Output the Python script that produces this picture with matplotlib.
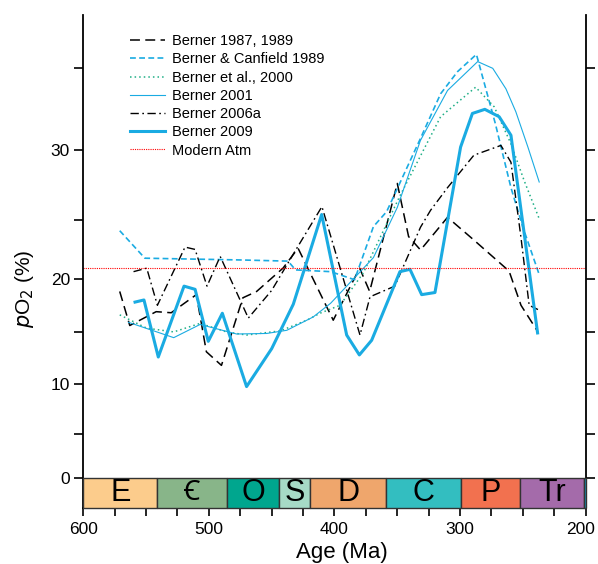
import numpy as np
import matplotlib
matplotlib.use("Agg")
import matplotlib.pyplot as plt
from matplotlib.transforms import ScaledTranslation

plt.rcParams['font.family'] = ['Liberation Sans', 'DejaVu Sans']

# --- data (age in Ma, pO2 in %) ---
b87_age = [571, 563, 542, 530, 510, 502, 490, 473, 462, 441, 429, 401, 380, 372,
           350, 341, 331.5, 310, 289, 261, 251.5, 238]
b87_o2 = [18.8, 15.6, 16.9, 16.8, 18.5, 13.1, 11.8, 18.2, 18.8, 20.9, 22.6, 16.1, 20.9, 18.8,
          27.6, 23.6, 22.45, 25.2, 23.3, 20.65, 17.5, 15.0]

bc89_age = [571, 551, 475, 437, 431, 403, 384, 369, 358.5, 332, 315.5, 302, 287, 272,
            259.5, 250, 237]
bc89_o2 = [24.1, 21.75, 21.6, 21.5, 20.75, 20.6, 19.9, 24.45, 25.6, 30.6, 33.4, 34.75, 35.8, 31.6,
           27.3, 24.4, 20.35]

b00_age = [571, 549.5, 528, 507, 486, 470, 443, 422, 411.6, 395.6, 377, 348, 315.5, 287.6,
           272.8, 259.5, 249, 237]
b00_o2 = [16.6, 15.35, 15.0, 15.8, 15.0, 14.7, 15.1, 16.1, 16.75, 17.5, 20.5, 26.7, 32.0, 33.8,
          32.6, 30.35, 27.8, 25.1]

b01_age = [564, 528, 507, 478, 454, 438, 417, 403, 369, 350, 331.6, 310, 286, 274,
           263.5, 255.6, 246, 237]
b01_o2 = [15.9, 14.45, 15.7, 14.8, 14.85, 15.15, 16.4, 17.7, 21.8, 25.9, 30.55, 33.6, 35.36, 34.95,
          33.7, 32.3, 30.15, 27.7]

b06_age = [560, 549.5, 541, 519, 511, 501.5, 491, 468.6, 450, 430, 410, 379.7, 371.7, 352,
           331.5, 323.5, 310, 289, 267.5, 259.5, 251.5, 245, 238]
b06_o2 = [20.6, 20.9, 17.5, 22.7, 22.5, 19.3, 21.9, 16.3, 18.9, 22.6, 25.96, 14.7, 18.3, 19.3,
          24.4, 25.7, 27.3, 29.6, 30.25, 29.1, 23.5, 17.5, 17.1]

b09_age = [558.8, 551.7, 540.3, 519.8, 511, 500.5, 489.3, 470, 450, 432.8, 410.2, 390.3, 380.2,
           370.4, 347.9, 339.9, 330.6, 320, 299.6, 290.2, 280.3, 268.9, 259.5, 238.3]
b09_o2 = [17.8, 18.0, 12.6, 19.3, 19.0, 14.1, 16.75, 9.76, 13.4, 17.6, 25.4, 14.7, 12.8,
          14.2, 20.6, 20.8, 18.5, 18.7, 30.15, 32.2, 32.45, 32.0, 30.87, 14.9]

modern_atm = 20.95

periods = ['E', 'Ꞓ', 'O', 'S', 'D', 'C', 'P', 'Tr', '']
period_start = [600, 541, 485.4, 443.8, 419.2, 358.9, 298.9, 252.2, 201.3]
period_end = [541, 485.4, 443.8, 419.2, 358.9, 298.9, 252.2, 201.3, 200]
period_colors = ['#FCCC8C', '#88B589', '#00A68E', '#A6DAC6', '#EFA66C',
                 '#33BEC0', '#F2714F', '#A46BAA', '#1296C0']

# the y axis of the original is not linear: tick values and their spacing
yticks = [0, 5, 10, 15, 20, 25, 30, 35]
ytick_pos = [0, 43.7, 93.4, 145.7, 198.9, 257.4, 328.0, 410.0]
s_lo = ytick_pos[1] / 5.0
s_hi = (ytick_pos[-1] - ytick_pos[-2]) / 5.0


def fwd(v):
    v = np.asarray(v, dtype=float)
    out = np.interp(v, yticks, ytick_pos)
    out = np.where(v < 0, v * s_lo, out)
    out = np.where(v > 35, ytick_pos[-1] + (v - 35) * s_hi, out)
    return out


def inv(d):
    d = np.asarray(d, dtype=float)
    out = np.interp(d, ytick_pos, yticks)
    out = np.where(d < 0, d / s_lo, out)
    out = np.where(d > ytick_pos[-1], 35 + (d - ytick_pos[-1]) / s_hi, out)
    return out


fig = plt.figure(figsize=(5.98, 5.64), dpi=100)
ax = fig.add_axes([0.1393, 0.0993, 0.8401, 0.8741])
ax.set_yscale('function', functions=(fwd, inv))
ybot, ytop = -3.47, 38.2
ax.set_ylim(ybot, ytop)
ax.set_xlim(600, 200)

cyan = '#1AABE2'
ax.plot(b87_age, b87_o2, color='black', lw=1.1, dashes=(6.5, 3.5), label='Berner 1987, 1989')
ax.plot(bc89_age, bc89_o2, color=cyan, lw=1.2, dashes=(3.5, 2.0), label='Berner & Canfield 1989')
ax.plot(b00_age, b00_o2, color='#1FAF86', lw=1.1, dashes=(1.0, 2.0), label='Berner et al., 2000')
ax.plot(b01_age, b01_o2, color=cyan, lw=0.8, label='Berner 2001')
ax.plot(b06_age, b06_o2, color='black', lw=1.0, dashes=(6, 2.5, 1.2, 2.5), label='Berner 2006a')
ax.plot(b09_age, b09_o2, color=cyan, lw=2.2, label='Berner 2009')
ax.axhline(modern_atm, color='red', lw=0.8, dashes=(1, 1), label='Modern Atm')

# geological time bar
for name, a0, a1, c in zip(periods, period_start, period_end, period_colors):
    ax.bar(a0, ybot, width=a1 - a0, bottom=0, align='edge', color=c,
           edgecolor='#333333', linewidth=1.0, zorder=3, clip_on=False)
    if name:
        fs = 19 if name == 'Ꞓ' else 22
        ax.text((a0 + a1) / 2, -1.8, name, ha='center', va='center', fontsize=fs, zorder=4,
                family=['Liberation Sans', 'Noto Sans', 'DejaVu Sans', 'Noto Sans CJK SC'])

ax.set_yticks(yticks)
ax.set_yticklabels(['0', '', '10', '', '20', '', '30', ''])
ax.set_xticks([600, 500, 400, 300, 200])
ax.set_xticks(np.arange(200, 601, 25), minor=True)
ax.tick_params(axis='x', which='both', direction='out', length=6, width=1.2, labelsize=12.5, pad=4)
ax.tick_params(axis='y', which='both', direction='out', length=6.5, width=1.2, labelsize=12.5,
               right=True, pad=3)
ax.spines['top'].set_visible(False)
for s in ['left', 'right', 'bottom']:
    ax.spines[s].set_linewidth(1.3)

# keep the "200" label inside the picture
last = ax.get_xticklabels()[-1]
last.set_transform(last.get_transform() + ScaledTranslation(-4 / 72, 0, fig.dpi_scale_trans))

ax.set_xlabel('Age (Ma)', fontsize=16)
ax.xaxis.set_label_coords(0.515, -0.068)
ax.set_ylabel('$p$O$_2$ (%)', fontsize=15)
ax.yaxis.set_label_coords(-0.094, 0.444)

ax.legend(loc='upper left', bbox_to_anchor=(0.093, 0.961), frameon=False, fontsize=10.5,
          handlelength=2.4, handletextpad=0.45, labelspacing=0.29, borderpad=0, borderaxespad=0)

fig.savefig('out.png', dpi=100)
